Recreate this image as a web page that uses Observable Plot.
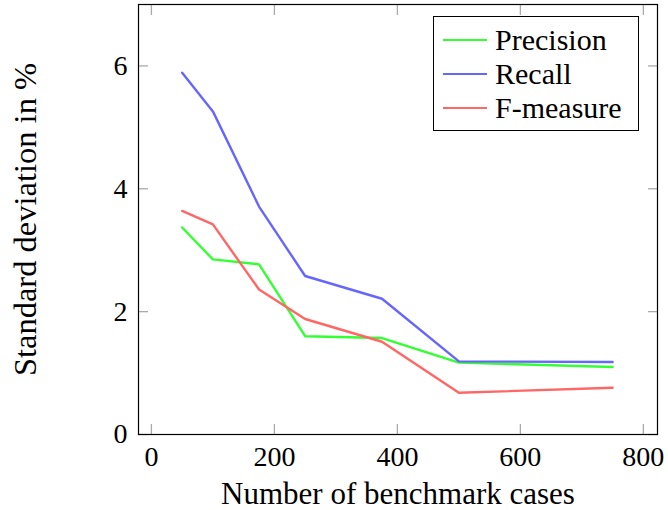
<!DOCTYPE html>
<html><head><meta charset="utf-8">
<script src="https://cdn.jsdelivr.net/npm/d3@7"></script>
<script src="https://cdn.jsdelivr.net/npm/@observablehq/plot@0.6"></script>
<style>
body{margin:0;background:#fff;}
#chart{position:relative;width:668px;height:510px;font-family:"Liberation Serif","DejaVu Serif",serif;}
#chart svg text{font-family:"Liberation Serif","DejaVu Serif",serif;}
#legend{position:absolute;left:433px;top:16px;width:206px;height:115px;border:1.2px solid #000;background:#fff;box-sizing:border-box;padding-top:6px;}
.row{height:34px;display:flex;align-items:center;font-size:30px;color:#000;font-family:"Liberation Serif","DejaVu Serif",serif;}
.swatch{width:44px;height:0;border-top:2.4px solid;margin-left:9px;margin-right:8px;}
</style></head>
<body><div id="chart"></div>
<script>
const cases = [50, 100, 175, 250, 375, 500, 750];
const precision = [3.37, 2.85, 2.77, 1.60, 1.57, 1.17, 1.10];
const recall = [5.89, 5.26, 3.71, 2.58, 2.21, 1.19, 1.18];
const fmeasure = [3.64, 3.42, 2.36, 1.88, 1.51, 0.68, 0.76];
const seriesNames = ["Precision", "Recall", "F-measure"];
const seriesColors = ["#33ff33", "#6666ff", "#ff6666"];
const xTicks = [0, 200, 400, 600, 800];
const yTicks = [0, 2, 4, 6];
const xLabel = "Number of benchmark cases";
const yLabel = "Standard deviation in %";

const seriesValues = [precision, recall, fmeasure];
const data = seriesNames.flatMap((name, i) =>
  cases.map((c, j) => ({series: name, x: c, y: seriesValues[i][j]})));

const tickStyle = {stroke: "#aaaaaa", strokeWidth: 1.3};
const fmt = d3.format("d");
const plot = Plot.plot({
  width: 668,
  height: 510,
  marginLeft: 138,
  marginRight: 11,
  marginTop: 4,
  marginBottom: 76,
  style: {fontSize: "28px", color: "#000", background: "#fff"},
  x: {domain: [-21, 823]},
  y: {domain: [0, 7]},
  color: {domain: seriesNames, range: seriesColors},
  marks: [
    Plot.axisX({anchor: "bottom", ticks: xTicks, tickSize: -10, ...tickStyle, text: null, label: null}),
    Plot.axisX({anchor: "top", ticks: xTicks, tickSize: -10, ...tickStyle, text: null, label: null}),
    Plot.axisY({anchor: "left", ticks: yTicks, tickSize: -10, ...tickStyle, text: null, label: null}),
    Plot.axisY({anchor: "right", ticks: yTicks, tickSize: -10, ...tickStyle, text: null, label: null}),
    Plot.axisX({anchor: "bottom", ticks: xTicks, tickSize: 0, tickPadding: 12, fontSize: 28, tickFormat: fmt,
      label: xLabel, labelAnchor: "center", labelOffset: 69, labelArrow: "none"}),
    Plot.axisY({anchor: "left", ticks: yTicks, tickSize: 0, tickPadding: 11, fontSize: 28, tickFormat: fmt,
      label: yLabel, labelAnchor: "center", labelOffset: 126, labelArrow: "none"}),
    Plot.line(data, {x: "x", y: "y", z: "series", stroke: "series", strokeWidth: 2.4}),
    Plot.frame({stroke: "#000", strokeWidth: 1.2})
  ]
});
d3.select(plot).selectAll("g[aria-label='x-axis label'] text").style("font-size", "31px");
d3.select(plot).selectAll("g[aria-label='y-axis label'] text").style("font-size", "32.5px");
document.getElementById("chart").appendChild(plot);

const legend = d3.select("#chart").append("div").attr("id", "legend");
seriesNames.forEach((name, i) => {
  const row = legend.append("div").attr("class", "row");
  row.append("div").attr("class", "swatch").style("border-top-color", seriesColors[i]);
  row.append("span").text(name);
});
</script>
</body></html>
